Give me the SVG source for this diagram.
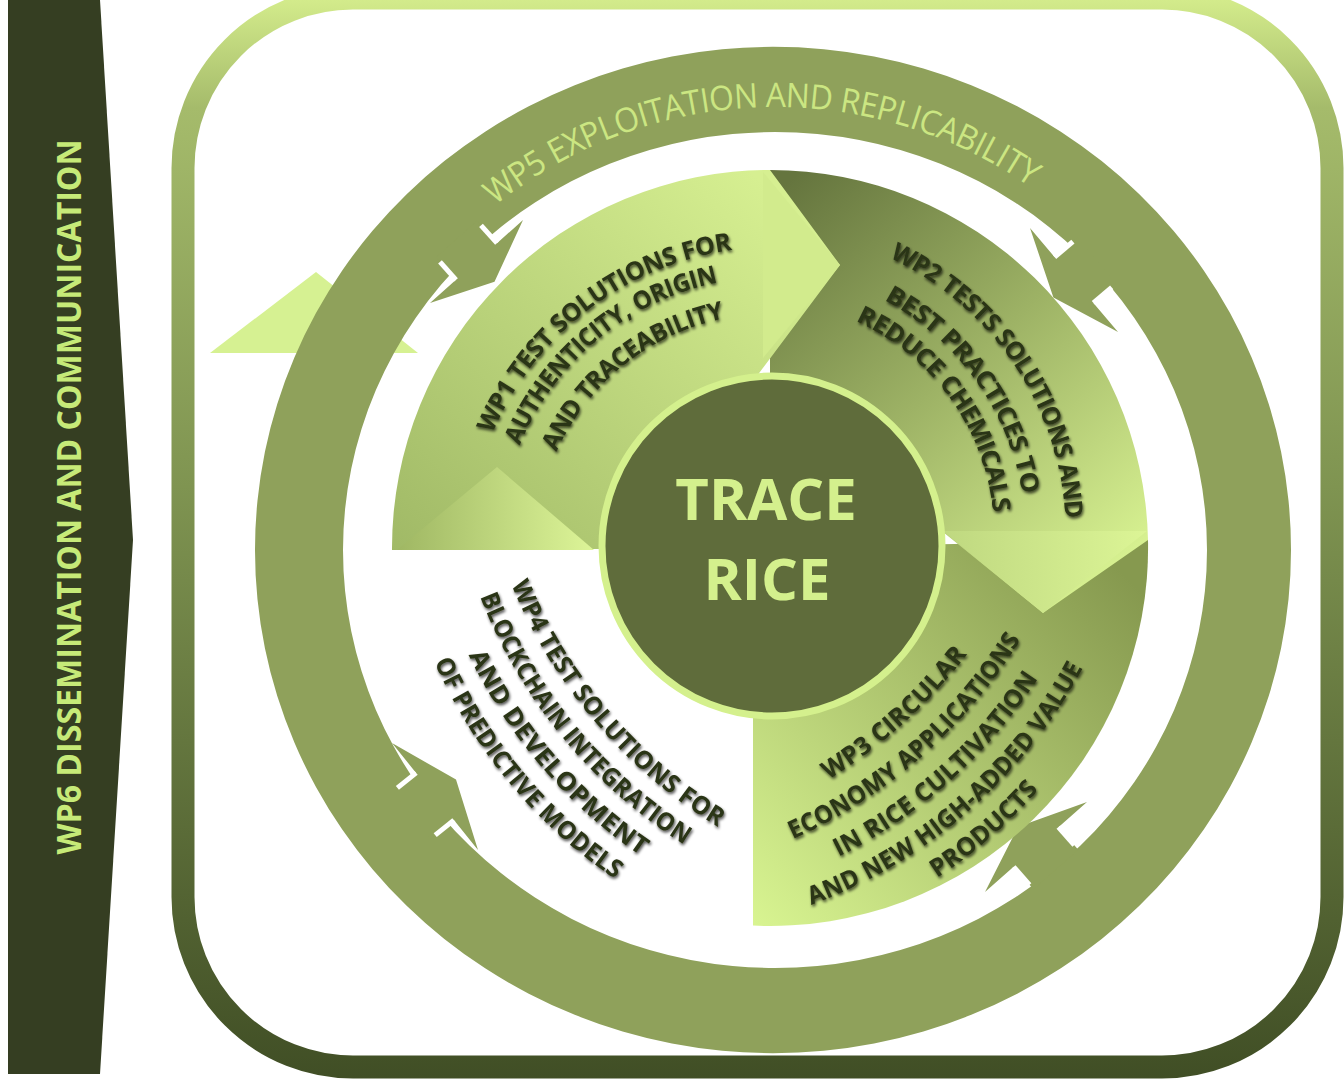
<svg xmlns="http://www.w3.org/2000/svg" width="1344" height="1081" viewBox="0 0 1344 1081">
<defs>
<linearGradient id="gFrame" gradientUnits="userSpaceOnUse" x1="0" y1="0" x2="0" y2="1081">
<stop offset="0" stop-color="#d3eb8b"/><stop offset="0.1" stop-color="#a5bb6b"/><stop offset="0.45" stop-color="#7f9451"/><stop offset="1" stop-color="#404e25"/>
</linearGradient>
<linearGradient id="gWP1" gradientUnits="userSpaceOnUse" x1="400" y1="560" x2="760" y2="180">
<stop offset="0" stop-color="#a0b966"/><stop offset="1" stop-color="#d6ef91"/>
</linearGradient>
<linearGradient id="gWP2" gradientUnits="userSpaceOnUse" x1="790" y1="180" x2="1120" y2="560">
<stop offset="0" stop-color="#65753e"/><stop offset="0.5" stop-color="#9db265"/><stop offset="1" stop-color="#d6f090"/>
</linearGradient>
<linearGradient id="gWP3" gradientUnits="userSpaceOnUse" x1="1130" y1="580" x2="760" y2="930">
<stop offset="0" stop-color="#86994f"/><stop offset="1" stop-color="#d8f491"/>
</linearGradient>
<linearGradient id="gTriL" gradientUnits="userSpaceOnUse" x1="397" y1="0" x2="594" y2="0">
<stop offset="0" stop-color="#9fb763"/><stop offset="1" stop-color="#ddf598"/>
</linearGradient>
<linearGradient id="gTriR" gradientUnits="userSpaceOnUse" x1="943" y1="0" x2="1147" y2="0">
<stop offset="0" stop-color="#bfd880"/><stop offset="1" stop-color="#dcf596"/>
</linearGradient>
<filter id="sh" filterUnits="userSpaceOnUse" x="0" y="0" width="1344" height="1081">
<feGaussianBlur in="SourceAlpha" stdDeviation="1.5" result="b"/>
<feOffset in="b" dx="1" dy="1.5" result="o"/>
<feComponentTransfer in="o" result="s"><feFuncA type="linear" slope="0.7"/></feComponentTransfer>
<feMerge><feMergeNode in="s"/><feMergeNode in="SourceGraphic"/></feMerge>
</filter>
<path id="p5" d="M315.3,566.1 A460,460 0 0 1 1234.7,533.9"/>
<path id="p11" d="M519.8,739.3 A315,315 0 0 1 1020.2,356.7"/>
<path id="p12" d="M552.1,727.0 A282,282 0 0 1 987.9,369.0"/>
<path id="p13" d="M579.0,699.9 A244,244 0 0 1 961.0,396.1"/>
<path id="p21" d="M583.3,273.0 A316,316 0 0 1 936.7,797.0"/>
<path id="p22" d="M597.4,307.1 A280,280 0 0 1 922.6,762.9"/>
<path id="p23" d="M616.5,335.2 A246,246 0 0 1 903.5,734.8"/>
<path id="p31" d="M186.7,676.6 A500,500 0 0 0 935.7,14.0"/>
<path id="p32" d="M211.2,704.3 A500,500 0 0 0 960.2,41.7"/>
<path id="p33" d="M235.8,732.0 A500,500 0 0 0 984.8,69.4"/>
<path id="p34" d="M258.9,758.2 A500,500 0 0 0 1007.9,95.6"/>
<path id="p35" d="M281.5,783.7 A500,500 0 0 0 1030.5,121.1"/>
<path id="p41" d="M658.6,11.0 A500,500 0 0 0 1283.6,791.0"/>
<path id="p42" d="M631.3,32.8 A500,500 0 0 0 1256.3,812.8"/>
<path id="p43" d="M604.0,54.7 A500,500 0 0 0 1229.0,834.7"/>
<path id="p44" d="M576.7,76.6 A500,500 0 0 0 1201.7,856.6"/>
</defs>
<style>
.lbl{font-family:"Open Sans","Liberation Sans",sans-serif;font-weight:700;font-size:25px;fill:#2b3417;}
.ring{fill:#8fa15b;}
.slit{stroke:#ffffff;stroke-width:5;fill:none;}
.title{font-family:"Open Sans","Liberation Sans",sans-serif;font-weight:700;fill:#d4f08d;}
</style>
<rect width="1344" height="1081" fill="#ffffff"/>
<g id="wp6">
<polygon points="8,0 100,0 133,540 100,1074 8,1074" fill="#353e22"/>
<text x="68" y="497" transform="rotate(-90 68 497)" text-anchor="middle" dominant-baseline="central" font-family="Open Sans, Liberation Sans, sans-serif" font-weight="700" font-size="34" fill="#c6ea78" textLength="715" lengthAdjust="spacingAndGlyphs">WP6 DISSEMINATION AND COMMUNICATION</text>
</g>
<g id="frame">
<rect x="183" y="-2" width="1149" height="1069" rx="170" ry="170" fill="none" stroke="url(#gFrame)" stroke-width="23"/>
</g>
<g id="wp5">
<polygon points="210,353 316,272 418,353" fill="#d6f192"/>
<path class="ring" fill-rule="evenodd" d="M255,550 A518,503 0 1 1 1291,550 A518,503 0 1 1 255,550 Z M343,550 A432,418 0 1 0 1207,550 A432,418 0 1 0 343,550 Z"/>
<text font-family="Open Sans, Liberation Sans, sans-serif" font-size="34" fill="#cbe682" dominant-baseline="central"><textPath href="#p5" startOffset="50%" text-anchor="middle" textLength="590" lengthAdjust="spacingAndGlyphs">WP5 EXPLOITATION AND REPLICABILITY</textPath></text>
</g>
<g id="connectors">
<polygon class="ring" points="430,303 494.5,281.7 523,220 497.0,243.2 477.0,220.8 436.0,257.4 456.0,279.8"/>
<line class="slit" x1="456.0" y1="279.8" x2="440.0" y2="261.9"/>
<line class="slit" x1="497.0" y1="243.2" x2="481.0" y2="225.3"/>
<polygon class="ring" points="1030,228 1053.4,297.4 1118,332 1093.4,302.9 1116.3,283.5 1077.5,237.7 1054.6,257.1"/>
<line class="slit" x1="1054.6" y1="257.1" x2="1072.9" y2="241.6"/>
<line class="slit" x1="1093.4" y1="302.9" x2="1111.7" y2="287.4"/>
<polygon class="ring" points="985,892 1018.1,826.8 1087,802 1058.4,827.2 1078.3,849.7 1033.5,889.3 1013.6,866.8"/>
<line class="slit" x1="1013.6" y1="866.8" x2="1029.5" y2="884.8"/>
<line class="slit" x1="1058.4" y1="827.2" x2="1074.3" y2="845.2"/>
<polygon class="ring" points="392,743 456.0,779.6 478,850 453.9,820.1 430.5,838.9 392.7,791.7 416.1,772.9"/>
<line class="slit" x1="416.1" y1="772.9" x2="397.4" y2="787.9"/>
<line class="slit" x1="453.9" y1="820.1" x2="435.2" y2="835.1"/>
</g>
<g id="wp3">
<path d="M753,548 L1148,540 A378,378 0 0 1 753,925.6 Z" fill="url(#gWP3)"/>
</g>
<g id="wp2">
<path d="M770,548 L770,170 A378,378 0 0 1 1148,540 L1043,613 L943,532 Z" fill="url(#gWP2)"/>
<polygon points="943,531 1043,613 1147,531" fill="url(#gTriR)"/>
</g>
<g id="wp1">
<path d="M770,548 L392,550 A378,378 0 0 1 770,170 L840,265 L745,392 Z" fill="url(#gWP1)"/>
<polygon points="763,172 840,265 763,358" fill="#d2eb8d"/>
<polygon points="397,550 497,467 594,550" fill="url(#gTriL)"/>
</g>
<g id="center">
<circle cx="772" cy="546" r="170" fill="#5f6c3b" stroke="#d4f08d" stroke-width="7"/>
<text class="title" x="766" y="520" font-size="58" text-anchor="middle">TRACE</text>
<text class="title" x="767" y="600" font-size="58" text-anchor="middle">RICE</text>
</g>
<g id="labels" filter="url(#sh)">
<text class="lbl" dominant-baseline="central"><textPath href="#p11" startOffset="50%" text-anchor="middle" textLength="326" lengthAdjust="spacingAndGlyphs">WP1 TEST SOLUTIONS FOR</textPath></text>
<text class="lbl" dominant-baseline="central"><textPath href="#p12" startOffset="50%" text-anchor="middle" textLength="277" lengthAdjust="spacingAndGlyphs">AUTHENTICITY, ORIGIN</textPath></text>
<text class="lbl" dominant-baseline="central"><textPath href="#p13" startOffset="50%" text-anchor="middle" textLength="232" lengthAdjust="spacingAndGlyphs">AND TRACEABILITY</textPath></text>
<text class="lbl" dominant-baseline="central"><textPath href="#p21" startOffset="50%" text-anchor="middle" textLength="341" lengthAdjust="spacingAndGlyphs">WP2 TESTS SOLUTIONS AND</textPath></text>
<text class="lbl" dominant-baseline="central"><textPath href="#p22" startOffset="50%" text-anchor="middle" textLength="256" lengthAdjust="spacingAndGlyphs">BEST PRACTICES TO</textPath></text>
<text class="lbl" dominant-baseline="central"><textPath href="#p23" startOffset="50%" text-anchor="middle" textLength="257" lengthAdjust="spacingAndGlyphs">REDUCE CHEMICALS</textPath></text>
<text class="lbl" dominant-baseline="central"><textPath href="#p31" startOffset="791" text-anchor="middle" textLength="185" lengthAdjust="spacingAndGlyphs">WP3 CIRCULAR</textPath></text>
<text class="lbl" dominant-baseline="central"><textPath href="#p32" startOffset="783" text-anchor="middle" textLength="302" lengthAdjust="spacingAndGlyphs">ECONOMY APPLICATIONS</textPath></text>
<text class="lbl" dominant-baseline="central"><textPath href="#p33" startOffset="788" text-anchor="middle" textLength="266" lengthAdjust="spacingAndGlyphs">IN RICE CULTIVATION</textPath></text>
<text class="lbl" dominant-baseline="central"><textPath href="#p34" startOffset="782" text-anchor="middle" textLength="362" lengthAdjust="spacingAndGlyphs">AND NEW HIGH-ADDED VALUE</textPath></text>
<text class="lbl" dominant-baseline="central"><textPath href="#p35" startOffset="781" text-anchor="middle" textLength="133" lengthAdjust="spacingAndGlyphs">PRODUCTS</textPath></text>
<text class="lbl" dominant-baseline="central"><textPath href="#p41" startOffset="785" text-anchor="middle" textLength="318" lengthAdjust="spacingAndGlyphs">WP4 TEST SOLUTIONS FOR</textPath></text>
<text class="lbl" dominant-baseline="central"><textPath href="#p42" startOffset="776" text-anchor="middle" textLength="321" lengthAdjust="spacingAndGlyphs">BLOCKCHAIN INTEGRATION</textPath></text>
<text class="lbl" dominant-baseline="central"><textPath href="#p43" startOffset="786" text-anchor="middle" textLength="263" lengthAdjust="spacingAndGlyphs">AND DEVELOPMENT</textPath></text>
<text class="lbl" dominant-baseline="central"><textPath href="#p44" startOffset="779" text-anchor="middle" textLength="281" lengthAdjust="spacingAndGlyphs">OF PREDICTIVE MODELS</textPath></text>
</g>
</svg>
